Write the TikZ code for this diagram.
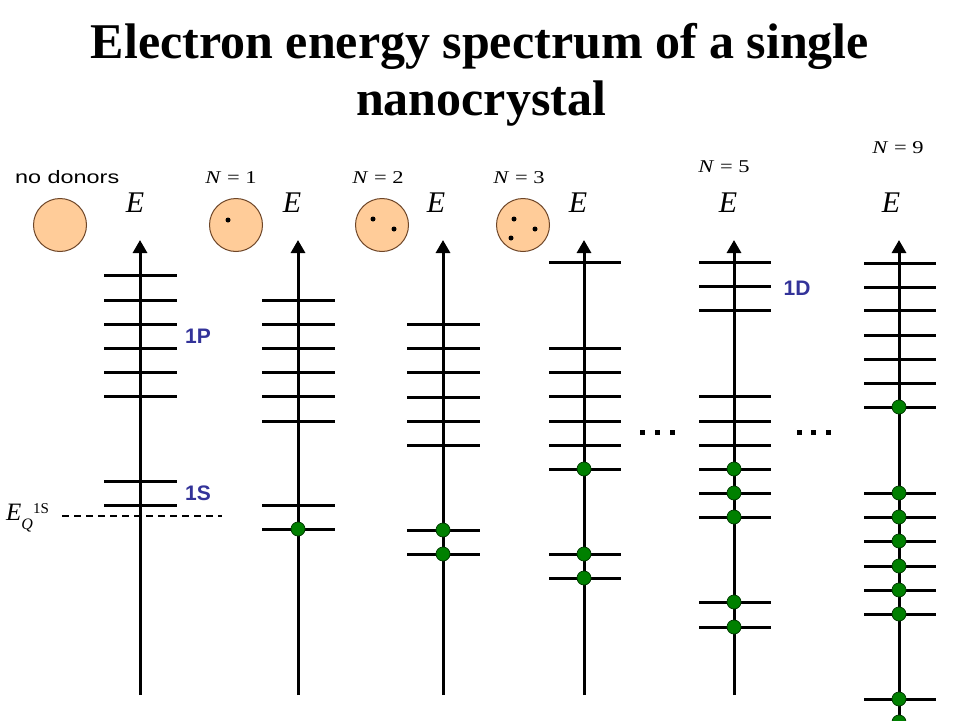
\documentclass[tikz,border=0pt]{standalone}
\usepackage{fontspec}
\setmainfont{Liberation Serif}
\setsansfont{Liberation Sans}
\usetikzlibrary{arrows.meta}
\definecolor{peach}{RGB}{255,204,153}
\definecolor{brownedge}{RGB}{110,70,40}
\definecolor{lvlblue}{RGB}{51,51,153}
\definecolor{dotgreen}{RGB}{0,128,0}
\definecolor{dotedge}{RGB}{0,60,0}
\begin{document}
\begin{tikzpicture}[x=1pt,y=-1pt,
  axisline/.style={line width=3pt,-{Triangle[width=14pt,length=13pt]}},
  lvl/.style={line width=3pt},
  electron/.style={circle,fill=dotgreen,draw=dotedge,line width=0.8pt,minimum size=14pt,inner sep=0pt},
  crystal/.style={circle,fill=peach,draw=brownedge,line width=1pt,minimum size=53pt,inner sep=0pt},
  donor/.style={circle,fill=black,minimum size=5pt,inner sep=0pt},
  elabel/.style={font=\fontsize{30}{30}\selectfont\itshape,inner sep=0pt,anchor=base},
  nlabel/.style={font=\fontsize{18}{18}\selectfont,inner sep=0pt,anchor=base},
  orb/.style={font=\fontsize{21}{21}\selectfont\sffamily\bfseries,text=lvlblue,inner sep=0pt},
  edot/.style={fill=black,minimum size=5pt,inner sep=0pt},
  titlefont/.style={font=\fontsize{50}{58}\selectfont\bfseries,inner sep=0pt,anchor=base}
]
\useasboundingbox (0,0) rectangle (960,720);
% title
\node[titlefont] (title1) at (480,58) {Electron energy spectrum of a single};
\node[titlefont] (title2) at (481,115) {nanocrystal};
% crystals
\node[crystal] (c0) at (60,225) {};
\node[crystal] (c1) at (236,225) {};
\node[donor] (d11) at (228,220) {};
\node[crystal] (c2) at (382,225) {};
\node[donor] (d21) at (373,219) {};
\node[donor] (d22) at (394,229) {};
\node[crystal] (c3) at (523,225) {};
\node[donor] (d31) at (514,219) {};
\node[donor] (d32) at (535,229) {};
\node[donor] (d33) at (511,238) {};
% labels above
\node[font=\fontsize{18}{18}\selectfont\sffamily,inner sep=0pt,anchor=base west] (nod) at (15,183) {\scalebox{1.3}[1]{no donors}};
\node[nlabel] (n1) at (231,183) {\scalebox{1.25}[1]{\textit{N} = 1}};
\node[nlabel] (n2) at (378,183) {\scalebox{1.25}[1]{\textit{N} = 2}};
\node[nlabel] (n3) at (519,183) {\scalebox{1.25}[1]{\textit{N} = 3}};
\node[nlabel] (n5) at (724,172) {\scalebox{1.25}[1]{\textit{N} = 5}};
\node[nlabel] (n9) at (898,153) {\scalebox{1.25}[1]{\textit{N} = 9}};
% E labels
\node[elabel] (E1) at (135,212) {E};
\node[elabel] (E2) at (292,212) {E};
\node[elabel] (E3) at (436,212) {E};
\node[elabel] (E4) at (578,212) {E};
\node[elabel] (E5) at (728,212) {E};
\node[elabel] (E6) at (891,212) {E};
% axes
\foreach \i/\x/\yb in {1/140/695,2/298/695,3/443/695,4/584/695,5/734/695,6/899/725}{
  \coordinate (b\i) at (\x,\yb);
  \coordinate (t\i) at (\x,240);
  \draw[axisline] (b\i) -- (t\i);
}
% levels
\foreach \y in {275,300,324,348,372,396,481,505} \draw[lvl] (104,\y) -- (177,\y);
\foreach \y in {300,324,348,372,396,421,505,529} \draw[lvl] (262,\y) -- (335,\y);
\foreach \y in {324,348,372,397,421,445,530,554} \draw[lvl] (407,\y) -- (480,\y);
\foreach \y in {262,348,372,396,421,445,469,554,578} \draw[lvl] (549,\y) -- (621,\y);
\foreach \y in {262,286,310,396,421,445,469,493,517,602,627} \draw[lvl] (699,\y) -- (771,\y);
\foreach \y in {263,287,310,335,359,383,407,493,517,541,566,590,614,699} \draw[lvl] (864,\y) -- (936,\y);
% electrons
\node[electron] (e21) at (298,529) {};
\foreach \y [count=\k] in {530,554} \node[electron] (e3\k) at (443,\y) {};
\foreach \y [count=\k] in {469,554,578} \node[electron] (e4\k) at (584,\y) {};
\foreach \y [count=\k] in {469,493,517,602,627} \node[electron] (e5\k) at (734,\y) {};
\foreach \y [count=\k] in {407,493,517,541,566,590,614,699,722} \node[electron] (e6\k) at (899,\y) {};
% orbital labels
\node[orb] (l1P) at (198,336) {1P};
\node[orb] (l1S) at (198,493) {1S};
\node[orb] (l1D) at (797,288) {1D};
% quantum level
\coordinate (dL) at (62,516);
\coordinate (dR) at (222,516);
\draw[line width=1.3pt,dash pattern=on 7pt off 5pt] (dL) -- (dR);
\node[inner sep=0pt,anchor=base west] (EQ) at (6,520) {\fontsize{25}{25}\selectfont\itshape E\raisebox{-9pt}{\fontsize{16}{16}\selectfont Q}\raisebox{7pt}{\fontsize{15}{15}\selectfont\upshape 1S}};
% ellipses
\foreach \x [count=\k] in {642,657,672} \node[edot] (ea\k) at (\x,432) {};
\foreach \x [count=\k] in {799,813,828} \node[edot] (eb\k) at (\x,432) {};
\end{tikzpicture}
\end{document}
